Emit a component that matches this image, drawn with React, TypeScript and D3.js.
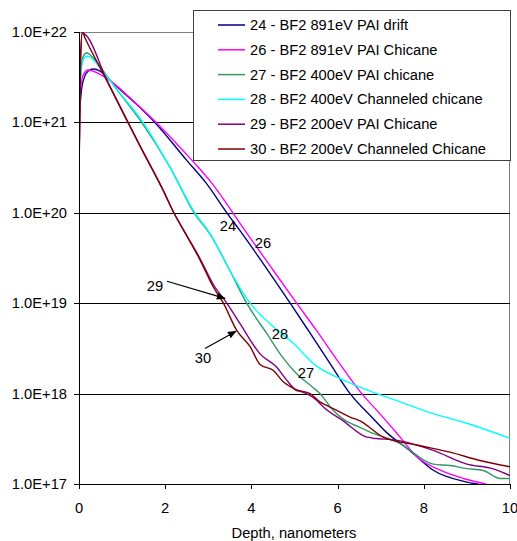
import React from 'react';
import * as d3 from 'd3';

// depth in nanometers, concentration in atoms/cm3
const depth24 = [0, 0.063, 0.14, 0.216, 0.33, 0.49, 0.72, 1.3, 1.76, 2.5, 2.96, 3.43, 3.74, 4.43, 4.9, 5.32, 5.8, 6.29, 6.79, 7.14, 7.68, 8.22, 9.0, 9.3, 9.6];
const conc24 = [1.07e21, 2.4e21, 3.3e21, 3.7e21, 3.9e21, 3.7e21, 2.9e21, 1.64e21, 1.0e21, 3.8e20, 2.1e20, 1.0e20, 6.3e19, 2.14e19, 1.0e19, 5.0e18, 2.25e18, 1.0e18, 5.5e17, 3.7e17, 2.34e17, 1.42e17, 1.05e17, 9.8e16, 9.0e16];

const depth26 = [0, 0.035, 0.093, 0.21, 0.32, 0.49, 0.72, 1.3, 1.79, 2.58, 3.09, 3.57, 3.74, 4.51, 5.05, 5.51, 6.03, 6.56, 6.98, 7.45, 7.84, 8.38, 8.92, 9.46, 9.7];
const conc26 = [3.2e20, 2.3e21, 3.3e21, 3.8e21, 3.7e21, 3.4e21, 2.9e21, 1.66e21, 1.0e21, 4.0e20, 2.1e20, 1.0e20, 7.6e19, 2.3e19, 1.0e19, 5.0e18, 2.2e18, 1.0e18, 6.0e17, 3.3e17, 2.0e17, 1.42e17, 1.15e17, 9.9e16, 9.2e16];

const depth27 = [0, 0.035, 0.093, 0.18, 0.255, 0.37, 0.53, 0.835, 1.455, 2.11, 2.67, 3.04, 3.5, 3.89, 4.36, 4.73, 5.05, 5.43, 5.59, 5.9, 6.68, 7.45, 8.22, 8.61, 9.0, 9.38, 9.77, 10];
const conc27 = [7.6e20, 3.3e21, 5.3e21, 5.9e21, 5.6e21, 4.9e21, 3.9e21, 2.46e21, 1.0e21, 3.2e20, 1.0e20, 5.8e19, 2.3e19, 1.0e19, 4.6e18, 2.5e18, 1.66e18, 1.17e18, 1.0e18, 6.5e17, 3.9e17, 2.8e17, 1.66e17, 1.6e17, 1.48e17, 1.41e17, 1.15e17, 1.15e17];

const depth28 = [0, 0.035, 0.093, 0.18, 0.255, 0.37, 0.53, 0.835, 1.485, 2.11, 2.69, 3.04, 3.5, 3.97, 4.51, 4.97, 5.52, 6.06, 6.91, 7.45, 8.22, 9.0, 10];
const conc28 = [4.6e20, 2.9e21, 4.9e21, 5.4e21, 5.3e21, 4.7e21, 3.8e21, 2.46e21, 1.0e21, 3.2e20, 1.0e20, 5.9e19, 2.3e19, 1.0e19, 5.5e18, 3.6e18, 2.0e18, 1.46e18, 1.0e18, 8.1e17, 6.0e17, 4.7e17, 3.2e17];

const depth29 = [0, 0.035, 0.077, 0.68, 1.137, 1.415, 1.956, 2.2, 2.42, 2.81, 3.12, 3.43, 3.74, 4.2, 4.59, 4.82, 5.05, 5.13, 5.52, 5.67, 6.13, 6.68, 7.45, 8.22, 9.0, 9.61, 10];
const conc29 = [2.5e20, 4.7e21, 9.7e21, 2.7e21, 1.0e21, 5.5e20, 1.76e20, 1.0e20, 6.5e19, 3.1e19, 1.6e19, 1.0e19, 5.9e18, 2.75e18, 1.96e18, 1.41e18, 1.08e18, 1.06e18, 8.4e17, 7.1e17, 5.0e17, 3.3e17, 3.0e17, 2.35e17, 1.66e17, 1.47e17, 1.24e17];

const depth30 = [0, 0.035, 0.077, 0.14, 0.68, 1.137, 1.415, 1.956, 2.2, 2.42, 2.81, 3.12, 3.35, 3.66, 3.97, 4.2, 4.51, 4.74, 5.05, 5.36, 5.59, 5.82, 5.9, 6.29, 6.52, 7.06, 7.84, 8.61, 9.3, 10];
const conc30 = [3.0e20, 4.9e21, 1.0e22, 8.6e21, 2.7e21, 1.0e21, 5.5e20, 1.76e20, 1.0e20, 6.5e19, 3.0e19, 1.5e19, 1.0e19, 5.0e18, 3.3e18, 2.1e18, 1.8e18, 1.35e18, 1.1e18, 1.0e18, 8.1e17, 7.1e17, 6.8e17, 5.5e17, 5.0e17, 3.3e17, 2.7e17, 2.25e17, 1.82e17, 1.55e17];

const seriesNames = [
  '24 - BF2 891eV PAI drift',
  '26 - BF2 891eV PAI Chicane',
  '27 - BF2 400eV PAI chicane',
  '28 - BF2 400eV Channeled chicane',
  '29 - BF2 200eV PAI Chicane',
  '30 - BF2 200eV Channeled Chicane',
];
const seriesColors = ['#000080', '#ff00ff', '#339966', '#00ffff', '#800080', '#800000'];
const seriesDepths = [depth24, depth26, depth27, depth28, depth29, depth30];
const seriesConcs = [conc24, conc26, conc27, conc28, conc29, conc30];

const xTicks = [0, 2, 4, 6, 8, 10];
const yTicks = [1e17, 1e18, 1e19, 1e20, 1e21, 1e22];
const yTickLabels = ['1.0E+17', '1.0E+18', '1.0E+19', '1.0E+20', '1.0E+21', '1.0E+22'];

// curve labels: text, depth, concentration
const labelTexts = ['24', '26', '29', '30', '28', '27'];
const labelDepths = [3.457, 4.269, 1.763, 2.877, 4.664, 5.267];
const labelConcs = [7.1e19, 4.6e19, 1.54e19, 2.5e18, 4.6e18, 1.67e18];

// arrows: from (depth, conc) to (depth, conc)
const arrowFrom = [[2.042, 1.75e19], [2.923, 3.16e18]];
const arrowTo = [[3.387, 1.13e19], [3.643, 4.9e18]];

const W = 517;
const H = 541;
const font = '"Liberation Sans", Arial, sans-serif';
const fs = 14.7;

export default function App() {
  const x = d3.scaleLinear().domain([0, 10]).range([79, 510]);
  const y = d3.scaleLog().domain([1e17, 1e22]).range([484, 32]);
  const [x0, x1] = x.range();
  const [yb, yt] = y.range();

  const line = d3
    .line<[number, number]>()
    .x((d) => x(d[0]))
    .y((d) => y(d[1]))
    .curve(d3.curveMonotoneX);

  const legX = 193;
  const legY = 10;
  const legW = 317;
  const legH = 150;
  const rowH = 24.8;

  return (
    <svg
      width={W}
      height={H}
      style={{ position: 'absolute', left: 0, top: 0, background: '#fff' }}
      fontFamily={font}
    >
      <defs>
        <clipPath id="plot">
          <rect x={x0} y={yt} width={x1 - x0} height={yb - yt} />
        </clipPath>
        <marker id="arr" viewBox="0 0 10 10" refX="9" refY="5" markerWidth="9" markerHeight="9" orient="auto" markerUnits="userSpaceOnUse">
          <path d="M0,1 L10,5 L0,9 z" fill="#000" />
        </marker>
      </defs>
      <rect width={W} height={H} fill="#fff" />

      {/* plot border */}
      <line x1={x0} x2={x1} y1={yt + 0.5} y2={yt + 0.5} stroke="#808080" />
      <line x1={x1 - 0.5} x2={x1 - 0.5} y1={yt} y2={yb} stroke="#808080" />

      {/* gridlines */}
      {yTicks.slice(1, -1).map((t) => (
        <line key={t} x1={x0} x2={x1} y1={Math.round(y(t)) + 0.5} y2={Math.round(y(t)) + 0.5} stroke="#000" />
      ))}

      {/* series */}
      <g clipPath="url(#plot)">
        {seriesDepths.map((ds, i) => (
          <path
            key={i}
            d={line(ds.map((d, j) => [d, seriesConcs[i][j]] as [number, number])) || ''}
            fill="none"
            stroke={seriesColors[i]}
            strokeWidth={1.4}
            strokeLinejoin="round"
          />
        ))}
      </g>

      {/* axes */}
      <line x1={x0 + 0.5} x2={x0 + 0.5} y1={yt} y2={yb} stroke="#000" />
      <line x1={x0} x2={x1} y1={yb + 0.5} y2={yb + 0.5} stroke="#000" />
      {yTicks.map((t, i) => (
        <g key={t}>
          <line x1={x0 - 5} x2={x0} y1={Math.round(y(t)) + 0.5} y2={Math.round(y(t)) + 0.5} stroke="#000" />
          <text x={67} y={y(t) + 5} textAnchor="end" fontSize={fs} fill="#000">
            {yTickLabels[i]}
          </text>
        </g>
      ))}
      {xTicks.map((t) => (
        <g key={t}>
          <line x1={Math.round(x(t)) + 0.5} x2={Math.round(x(t)) + 0.5} y1={yb} y2={yb + 5} stroke="#000" />
          <text x={x(t)} y={513} textAnchor="middle" fontSize={fs} fill="#000">
            {t}
          </text>
        </g>
      ))}
      <text x={(x0 + x1) / 2 - 0.5} y={538} textAnchor="middle" fontSize={fs} fill="#000">
        Depth, nanometers
      </text>

      {/* curve labels */}
      {labelTexts.map((t, i) => (
        <text key={t} x={x(labelDepths[i])} y={y(labelConcs[i]) + 5} textAnchor="middle" fontSize={fs} fill="#000">
          {t}
        </text>
      ))}
      {arrowFrom.map((f, i) => (
        <line
          key={i}
          x1={x(f[0])}
          y1={y(f[1])}
          x2={x(arrowTo[i][0])}
          y2={y(arrowTo[i][1])}
          stroke="#000"
          strokeWidth={1.2}
          markerEnd="url(#arr)"
        />
      ))}

      {/* legend */}
      <rect x={legX + 0.5} y={legY + 0.5} width={legW} height={legH} fill="#fff" stroke="#404040" />
      {seriesNames.map((n, i) => (
        <g key={n}>
          <line x1={218} x2={245} y1={legY + 15 + i * rowH} y2={legY + 15 + i * rowH} stroke={seriesColors[i]} strokeWidth={1.5} />
          <text x={250} y={legY + 20 + i * rowH} fontSize={fs} fill="#000">
            {n}
          </text>
        </g>
      ))}
    </svg>
  );
}
